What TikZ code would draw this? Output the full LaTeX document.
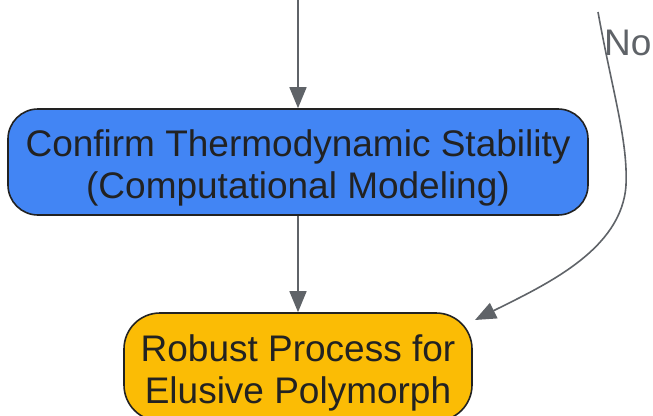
\documentclass[tikz,border=0pt]{standalone}
\usepackage{fontspec}
\setmainfont{Liberation Sans}
\usetikzlibrary{arrows.meta}
\definecolor{edgegray}{HTML}{5F6368}
\definecolor{boxblue}{HTML}{4285F4}
\definecolor{boxyellow}{HTML}{FBBC05}
\definecolor{textdark}{HTML}{222222}
\tikzset{
  procbox/.style={draw=textdark, line width=1.6pt, rounded corners=30pt, inner sep=0pt},
  boxtext/.style={align=center, text=textdark, inner sep=0pt,
    font=\fontsize{37}{42}\selectfont},
  flow/.style={draw=edgegray, line width=1.6pt,
    -{Triangle[length=21pt,width=17pt]}},
}
\begin{document}
\begin{tikzpicture}[x=1pt,y=-1pt]
\useasboundingbox (0,0) rectangle (653,415);
\node[procbox, fill=boxblue, minimum width=580pt, minimum height=106pt] (confirm) at (298,162) {};
\node[boxtext] (confirmtext) at (298,168)
  {Confirm Thermodynamic Stability\\(Computational Modeling)};
\node[procbox, fill=boxyellow, rounded corners=36pt, minimum width=348pt, minimum height=108pt] (robust) at (298,367) {};
\node[boxtext] (robusttext) at (298,373)
  {Robust Process for\\Elusive Polymorph};
\coordinate (topin) at (298,-2);
\coordinate (topno) at (598,12);
\draw[flow] (topin) -- (confirm.north);
\draw[flow] (confirm.south) -- (robust.north);
\draw[flow] (topno) .. controls (612,90) and (628,140) .. (626,185)
  .. controls (622,250) and (545,285) .. (475,320);
\node[text=edgegray, font=\fontsize{37}{37}\selectfont, anchor=west, inner sep=0pt] (nolabel) at (604,43) {No};
\end{tikzpicture}
\end{document}
